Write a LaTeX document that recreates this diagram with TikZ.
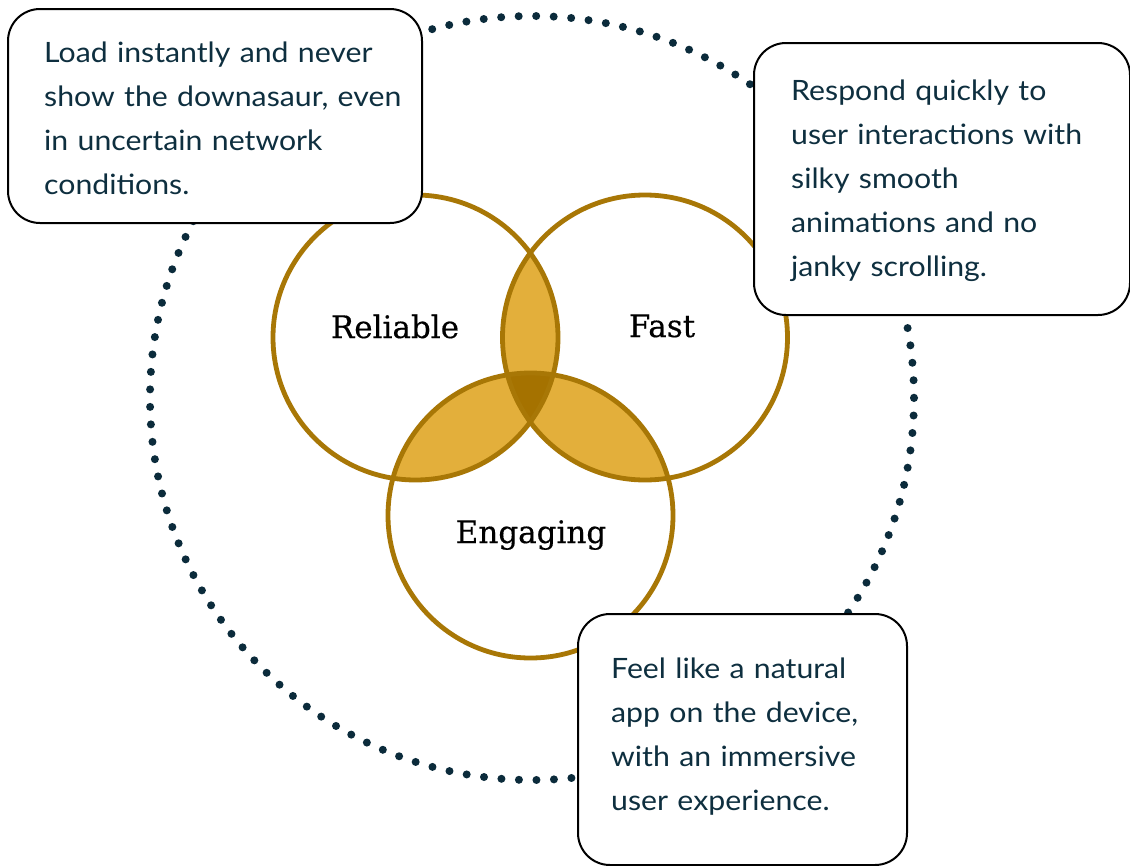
\documentclass[tikz,border=0pt]{standalone}
\usepackage{fontspec}
\setmainfont{Lato}[FakeStretch=1.08]
\newfontfamily\vennfont{DejaVu Serif}[FakeBold=0.4]
\definecolor{gold}{HTML}{A87706}
\definecolor{lensfill}{HTML}{E3AF3B}
\definecolor{corefill}{HTML}{A57200}
\definecolor{navy}{HTML}{0B2B3B}
\definecolor{txtcol}{HTML}{0E2F3F}
\begin{document}
\begin{tikzpicture}[x=1pt,y=-1pt,
  dotring/.style={draw=navy, line width=8pt, line cap=round, dash pattern=on 0pt off 17.52pt},
  ring/.style={draw=gold, line width=4.8pt},
  lens/.style={fill=lensfill},
  core/.style={fill=corefill},
  box/.style={draw=black, fill=white, line width=2pt, rounded corners=32pt, anchor=north west, inner sep=0pt},
  boxtext/.style={text=txtcol, inner sep=0pt, align=left, text width=420pt, anchor=base west, font=\fontsize{28}{44}\selectfont},
  vennlabel/.style={text=black, inner sep=0pt, anchor=base, font=\vennfont\fontsize{31}{36}\selectfont}]
\useasboundingbox (0,0) rectangle (1130,865);
\fill[white] (0,0) rectangle (1130,865);
% dotted outer ring
\coordinate (ctr) at (532,398);
\draw[dotring] (ctr) circle[radius=382];
% venn centres
\coordinate (cR) at (415.5,337.5);
\coordinate (cF) at (645,337.5);
\coordinate (cE) at (530.5,515.5);
\def\vr{142.5}
% pairwise lenses
\begin{scope}
  \clip (cR) circle[radius=\vr];
  \fill[lens] (cF) circle[radius=\vr];
  \fill[lens] (cE) circle[radius=\vr];
\end{scope}
\begin{scope}
  \clip (cF) circle[radius=\vr];
  \fill[lens] (cE) circle[radius=\vr];
\end{scope}
\begin{scope}
  \clip (cR) circle[radius=\vr];
  \clip (cF) circle[radius=\vr];
  \fill[core] (cE) circle[radius=\vr];
\end{scope}
\draw[ring] (cR) circle[radius=\vr];
\draw[ring] (cF) circle[radius=\vr];
\draw[ring] (cE) circle[radius=\vr];
% venn labels
\node[vennlabel] (lR) at (395,338) {Reliable};
\node[vennlabel] (lF) at (662,337) {Fast};
\node[vennlabel] (lE) at (531,543) {Engaging};
% boxes
\node[box, minimum width=414, minimum height=214] (b1) at (7,8) {};
\node[box, minimum width=376, minimum height=272] (b2) at (753,42) {};
\node[box, minimum width=329, minimum height=251] (b3) at (577,613) {};
% box texts
\node[boxtext] (t1) at (44,62) {Load instantly and never\\show the downasaur, even\\in uncertain network\\conditions.};
\node[boxtext] (t2) at (791,100) {Respond quickly to\\user interactions with\\silky smooth\\animations and no\\janky scrolling.};
\node[boxtext] (t3) at (611,678) {Feel like a natural\\app on the device,\\with an immersive\\user experience.};
\end{tikzpicture}
\end{document}
